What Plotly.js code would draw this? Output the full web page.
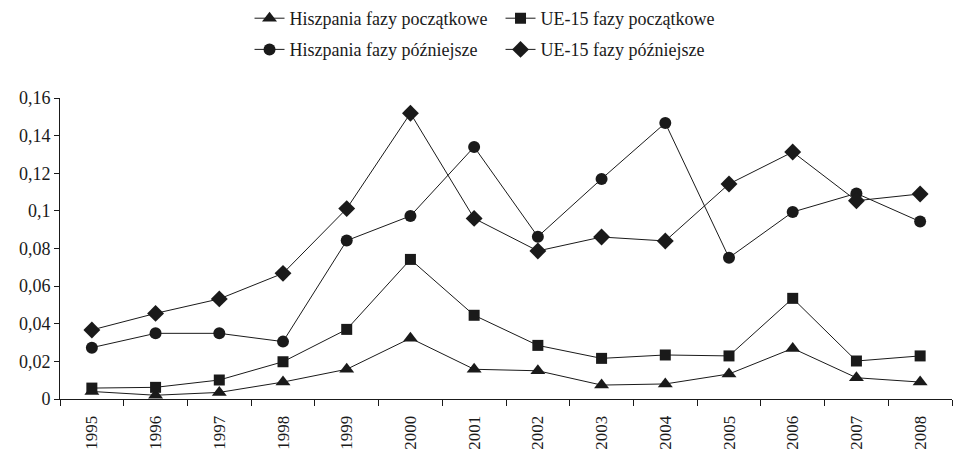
<!DOCTYPE html>
<html>
<head>
<meta charset="utf-8">
<script src="https://cdn.plot.ly/plotly-3.0.1.min.js"></script>
<style>html,body{margin:0;padding:0;background:#fff;}#chart{width:956px;height:452px;}</style>
</head>
<body>
<div id="chart"></div>
<script>
const years = ['1995','1996','1997','1998','1999','2000','2001','2002','2003','2004','2005','2006','2007','2008'];
const esInitial = [0.004, 0.002, 0.0035, 0.009, 0.0158, 0.0323, 0.0158, 0.015, 0.0074, 0.008, 0.0133, 0.0269, 0.0113, 0.009];
const euInitial = [0.0058, 0.0062, 0.0101, 0.0198, 0.037, 0.0742, 0.0445, 0.0285, 0.0216, 0.0234, 0.0229, 0.0535, 0.0202, 0.0229];
const esLater = [0.0273, 0.0349, 0.0349, 0.0305, 0.0842, 0.0973, 0.134, 0.0863, 0.117, 0.1467, 0.0751, 0.0994, 0.1093, 0.0943];
const euLater = [0.0367, 0.0455, 0.0532, 0.0668, 0.1012, 0.1519, 0.096, 0.0787, 0.0861, 0.084, 0.1143, 0.1313, 0.1054, 0.109];
const names = ['Hiszpania fazy początkowe', 'UE-15 fazy początkowe', 'Hiszpania fazy późniejsze', 'UE-15 fazy późniejsze'];
const yTickVals = [0, 0.02, 0.04, 0.06, 0.08, 0.1, 0.12, 0.14, 0.16];
const yTickText = ['0', '0,02', '0,04', '0,06', '0,08', '0,1', '0,12', '0,14', '0,16'];

const ink = '#1a1a1a';
function tr(y, name, symbol, size, legend, lw) {
  return {
    x: years, y: y, name: name, type: 'scatter', mode: 'lines+markers',
    line: {color: ink, width: lw || 1},
    marker: {symbol: symbol, size: size, color: ink},
    legend: legend, cliponaxis: false
  };
}
const data = [
  tr(esInitial, names[0], 'triangle-up', 13, 'legend', 1),
  tr(euInitial, names[1], 'square', 11, 'legend', 1),
  tr(esLater, names[2], 'circle', 12, 'legend2', 1),
  tr(euLater, names[3], 'diamond', 13, 'legend2', 1)
];
const font = {family: '"Liberation Serif", "Times New Roman", serif', size: 18, color: ink};
const xfont = {family: '"Liberation Serif", "Times New Roman", serif', size: 17, color: ink};
const layout = {
  width: 956, height: 452,
  margin: {l: 60, r: 4, t: 98, b: 53},
  paper_bgcolor: '#fff', plot_bgcolor: '#fff',
  font: font,
  showlegend: true,
  legend: {orientation: 'h', xref: 'container', yref: 'container', x: 0.261, y: 1.0, xanchor: 'left', yanchor: 'top',
           entrywidth: 206, entrywidthmode: 'pixels', font: font, bgcolor: 'rgba(0,0,0,0)', itemclick: false, tracegroupgap: 0},
  legend2: {orientation: 'h', xref: 'container', yref: 'container', x: 0.261, y: 0.931, xanchor: 'left', yanchor: 'top',
           entrywidth: 206, entrywidthmode: 'pixels', font: font, bgcolor: 'rgba(0,0,0,0)', itemclick: false, tracegroupgap: 0},
  xaxis: {
    type: 'category', range: [-0.5, 13.5], showgrid: false, zeroline: false,
    showline: true, linecolor: ink, linewidth: 1,
    ticks: 'outside', tickson: 'boundaries', ticklen: 6, tickcolor: ink,
    tickangle: -90, tickfont: xfont, ticklabelstandoff: 9, fixedrange: true
  },
  yaxis: {
    range: [0, 0.16], showgrid: false, zeroline: false,
    showline: true, linecolor: ink, linewidth: 1,
    ticks: 'outside', ticklen: 5, tickcolor: ink,
    tickvals: yTickVals, ticktext: yTickText, tickfont: font, fixedrange: true
  }
};
Plotly.newPlot('chart', data, layout, {displayModeBar: false, staticPlot: true});
</script>
</body>
</html>
